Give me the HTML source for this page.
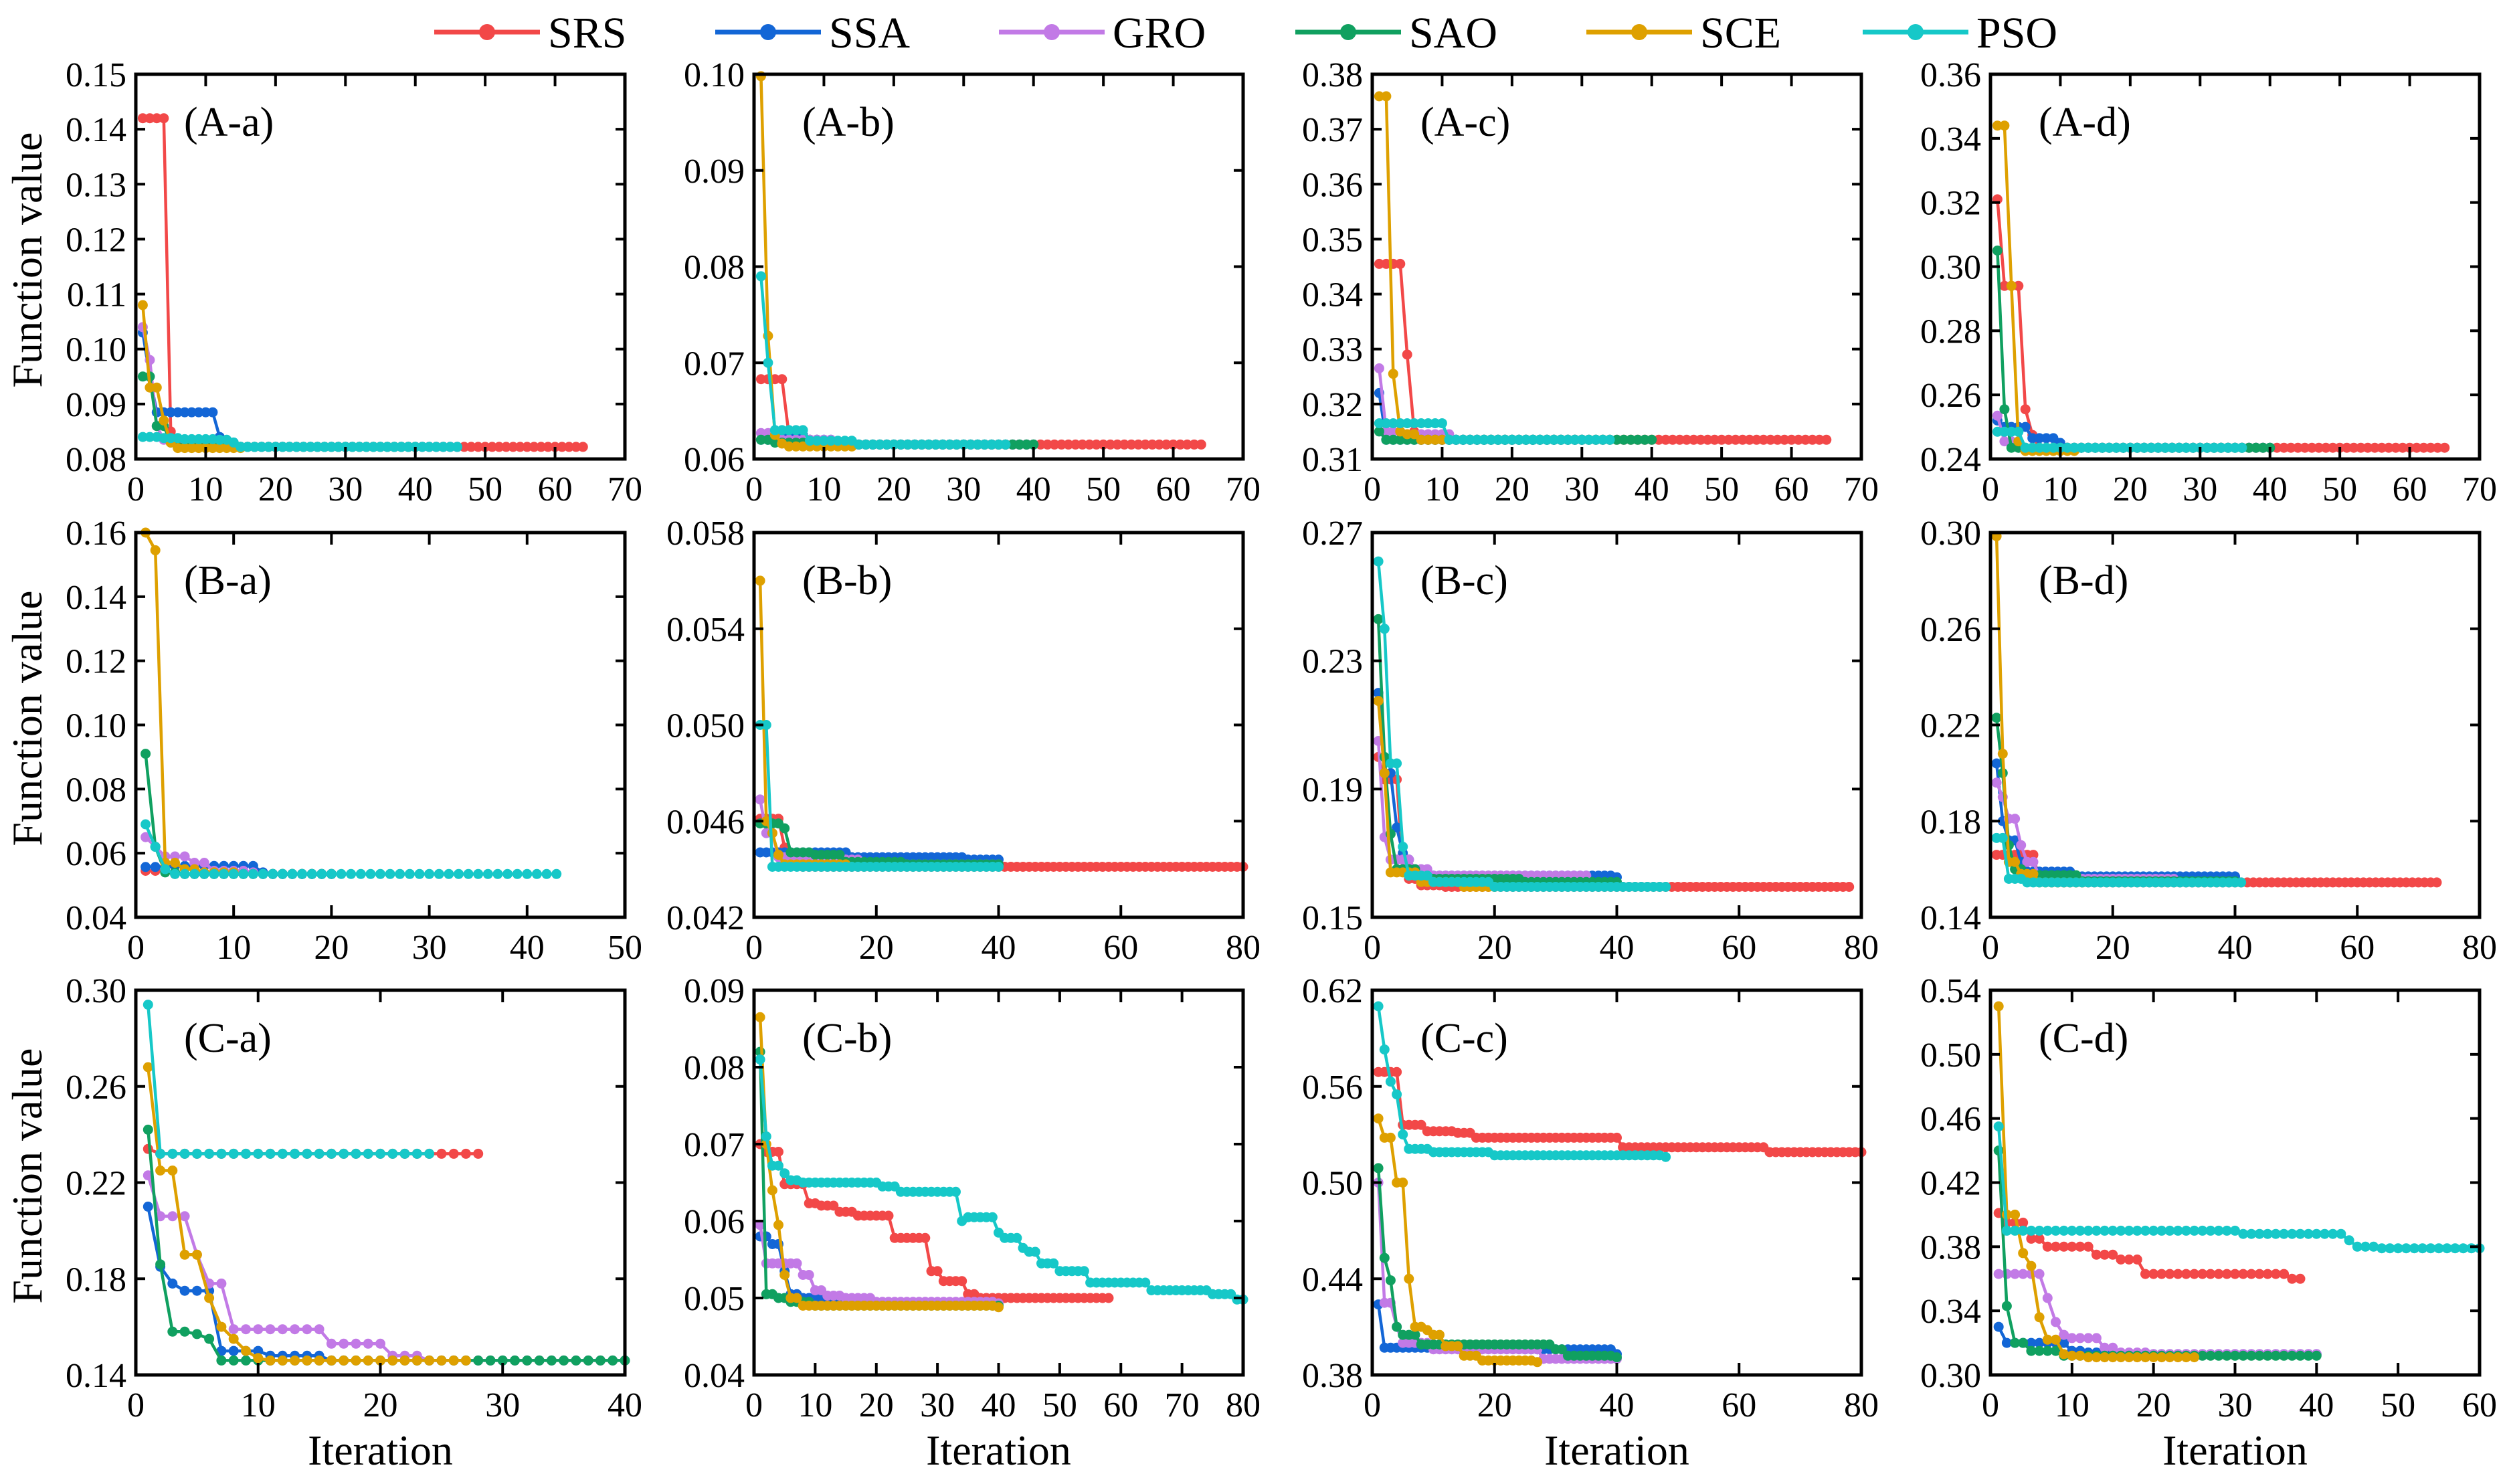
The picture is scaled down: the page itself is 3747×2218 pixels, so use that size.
<!DOCTYPE html>
<html><head><meta charset="utf-8"><style>
html,body{margin:0;padding:0;background:#fff;}
svg, svg text{font-family:"Liberation Serif","DejaVu Serif",serif !important;}
</style></head><body>
<svg id="chart" width="3747" height="2213" viewBox="0 0 3747 2213" xmlns="http://www.w3.org/2000/svg" font-family="Liberation Serif, serif">
<rect width="3747" height="2213" fill="#fff"/>
</svg>
<script>
// ---- data (breakpoints: [iteration, value]; last pair = final iteration) ----
const seriesNames = ["SRS","SSA","GRO","SAO","SCE","PSO"];
const seriesColors = ["#f24848","#1366d6","#c27ae6","#10a060","#dea000","#16c8c8"];
const panelLabels = ["(A-a)","(A-b)","(A-c)","(A-d)","(B-a)","(B-b)","(B-c)","(B-d)","(C-a)","(C-b)","(C-c)","(C-d)"];
const xMaxes = [70,70,70,70,50,80,80,80,40,80,80,60];
const xSteps = [10,10,10,10,10,20,20,20,10,10,20,10];
const yMins = [0.08,0.06,0.31,0.24,0.04,0.042,0.15,0.14,0.14,0.04,0.38,0.30];
const yMaxes = [0.15,0.10,0.38,0.36,0.16,0.058,0.27,0.30,0.30,0.09,0.62,0.54];
const ySteps = [0.01,0.01,0.01,0.02,0.02,0.004,0.04,0.04,0.04,0.01,0.06,0.04];
const yDecimals = [2,2,2,2,2,3,2,2,2,2,2,2];

const dataAa = [
 [[1,.142],[5,.085],[6,.083],[8,.0822],[64,.0822]],
 [[1,.103],[2,.095],[3,.0885],[12,.084],[13,.083],[15,.0822],[46,.0822]],
 [[1,.104],[2,.098],[3,.086],[4,.0835],[8,.0825],[15,.0822],[30,.0822]],
 [[1,.095],[2,.095],[3,.086],[5,.083],[6,.0822],[40,.0822]],
 [[1,.108],[2,.093],[3,.093],[4,.087],[5,.083],[6,.082],[15,.082]],
 [[1,.084],[4,.0838],[7,.0836],[12,.0835],[14,.083],[15,.0822],[46,.0822]]];
const dataAb = [
 [[1,.0683],[5,.0625],[7,.062],[10,.0615],[64,.0615]],
 [[1,.062],[3,.0625],[8,.062],[12,.0615],[40,.0615]],
 [[1,.0627],[4,.062],[12,.0615],[35,.0615]],
 [[1,.062],[3,.0617],[10,.0615],[40,.0615]],
 [[1,.0998],[2,.0728],[3,.0625],[4,.0616],[5,.0613],[14,.0613]],
 [[1,.079],[2,.070],[3,.063],[8,.0619],[15,.0615],[36,.0615]]];
const dataAc = [
 [[1,.3455],[5,.329],[6,.315],[7,.3135],[65,.3135]],
 [[1,.322],[2,.3135],[30,.3135]],
 [[1,.3265],[2,.315],[5,.3145],[12,.3135],[15,.3135]],
 [[1,.315],[2,.3135],[40,.3135]],
 [[1,.376],[2,.376],[3,.3255],[4,.315],[5,.3145],[7,.3135],[10,.3135]],
 [[1,.3165],[11,.3135],[34,.3135]]];
const dataAd = [
 [[1,.321],[2,.294],[5,.2555],[6,.2475],[7,.2435],[65,.2435]],
 [[1,.252],[2,.250],[6,.2465],[10,.245],[11,.2435],[40,.2435]],
 [[1,.2535],[2,.2455],[4,.2435],[30,.2435]],
 [[1,.305],[2,.2555],[3,.2435],[40,.2435]],
 [[1,.344],[2,.344],[3,.294],[4,.2455],[5,.2425],[12,.2425]],
 [[1,.2485],[5,.2435],[36,.2435]]];
const dataBa = [
 [[1,.0545],[4,.0535],[20,.0535]],
 [[1,.0557],[4,.056],[13,.054],[14,.0535],[20,.0535]],
 [[1,.065],[2,.062],[3,.059],[6,.057],[8,.0545],[12,.054],[13,.0535],[20,.0535]],
 [[1,.091],[2,.062],[3,.054],[5,.0535],[20,.0535]],
 [[1,.160],[2,.1545],[3,.057],[5,.055],[7,.054],[10,.054]],
 [[1,.069],[2,.062],[3,.055],[4,.0535],[43,.0535]]];
const dataBb = [
 [[1,.0461],[5,.0449],[6,.0443],[8,.0441],[80,.0441]],
 [[1,.0447],[16,.0445],[35,.0444],[40,.0444]],
 [[1,.0469],[2,.0455],[4,.0445],[8,.0444],[18,.0442],[40,.0442]],
 [[1,.0459],[5,.0457],[6,.0447],[10,.0446],[15,.0443],[25,.0442],[40,.0442]],
 [[1,.056],[2,.046],[3,.0455],[4,.0446],[5,.0442],[15,.0442]],
 [[1,.050],[3,.0441],[40,.0441]]];
const dataBc = [
 [[1,.200],[2,.193],[5,.165],[6,.162],[8,.160],[12,.1595],[78,.1595]],
 [[1,.220],[2,.195],[4,.178],[5,.170],[6,.168],[7,.164],[10,.163],[40,.1625]],
 [[1,.205],[2,.175],[3,.168],[7,.165],[10,.163],[35,.163]],
 [[1,.243],[2,.200],[3,.176],[4,.165],[8,.162],[25,.161],[40,.161]],
 [[1,.2175],[2,.195],[3,.164],[6,.164],[8,.161],[15,.1595],[20,.1595]],
 [[1,.261],[2,.240],[3,.198],[5,.172],[6,.163],[10,.161],[20,.1595],[48,.1595]]];
const dataBd = [
 [[1,.166],[8,.155],[10,.1545],[73,.1545]],
 [[1,.204],[2,.180],[3,.172],[5,.163],[6,.159],[14,.157],[40,.157]],
 [[1,.196],[2,.190],[3,.181],[5,.170],[6,.163],[8,.157],[10,.156],[30,.156]],
 [[1,.223],[2,.200],[3,.170],[4,.160],[6,.1575],[15,.155],[40,.155]],
 [[1,.2985],[2,.208],[3,.163],[5,.158],[8,.1545],[15,.1545]],
 [[1,.173],[3,.156],[6,.1545],[41,.1545]]];
const dataCa = [
 [[1,.234],[2,.232],[28,.232]],
 [[1,.210],[2,.185],[3,.178],[4,.175],[7,.150],[11,.148],[16,.146],[17,.146]],
 [[1,.223],[2,.206],[5,.190],[6,.178],[8,.159],[16,.153],[21,.148],[24,.146],[40,.146]],
 [[1,.242],[2,.186],[3,.158],[5,.157],[6,.155],[7,.146],[40,.146]],
 [[1,.268],[2,.225],[4,.190],[6,.172],[7,.160],[8,.155],[9,.150],[10,.147],[11,.146],[27,.146]],
 [[1,.294],[2,.232],[24,.232]]];
const dataCb = [
 [[1,.070],[2,.069],[5,.0648],[9,.0623],[11,.062],[14,.0612],[17,.0607],[23,.0578],[29,.0535],[31,.0522],[35,.0505],[37,.0500],[58,.0500]],
 [[1,.058],[3,.057],[5,.0535],[6,.0505],[8,.0500],[12,.0495],[15,.0495]],
 [[1,.0595],[2,.0545],[8,.053],[10,.051],[12,.0503],[15,.050],[20,.0495],[40,.0493]],
 [[1,.082],[2,.0505],[4,.050],[6,.0495],[10,.049],[40,.049]],
 [[1,.0865],[2,.070],[3,.064],[4,.0595],[5,.053],[6,.050],[8,.049],[40,.0488]],
 [[1,.081],[2,.071],[3,.0672],[5,.0662],[6,.0653],[8,.065],[21,.0645],[24,.0638],[34,.060],[35,.0605],[40,.0585],[41,.0578],[44,.0565],[45,.056],[47,.0545],[50,.0535],[55,.052],[65,.051],[75,.0505],[79,.0498],[80,.0498]]];
const dataCc = [
 [[1,.569],[5,.536],[9,.532],[14,.531],[17,.528],[41,.522],[65,.519],[80,.519]],
 [[1,.424],[2,.397],[25,.396],[40,.393]],
 [[1,.500],[2,.425],[4,.410],[5,.400],[10,.396],[28,.390],[40,.390]],
 [[1,.509],[2,.453],[3,.439],[4,.410],[5,.405],[8,.399],[30,.396],[32,.392],[40,.391]],
 [[1,.540],[2,.528],[4,.500],[6,.440],[7,.410],[9,.408],[10,.405],[12,.398],[15,.392],[18,.389],[27,.388]],
 [[1,.610],[2,.583],[3,.563],[4,.555],[5,.530],[6,.521],[10,.519],[20,.517],[48,.516]]];
const dataCd = [
 [[1,.401],[2,.395],[5,.385],[7,.380],[13,.375],[16,.372],[19,.363],[37,.360],[38,.360]],
 [[1,.330],[2,.320],[10,.315],[12,.314],[15,.313],[40,.313]],
 [[1,.363],[7,.348],[8,.333],[9,.325],[10,.323],[14,.317],[16,.314],[20,.313],[40,.313]],
 [[1,.440],[2,.343],[3,.320],[5,.315],[9,.312],[40,.312]],
 [[1,.530],[2,.400],[4,.376],[5,.368],[6,.336],[7,.322],[9,.313],[10,.312],[12,.311],[25,.311]],
 [[1,.455],[2,.390],[31,.388],[44,.384],[45,.380],[48,.379],[60,.379]]];
const panelData = [dataAa,dataAb,dataAc,dataAd,dataBa,dataBb,dataBc,dataBd,dataCa,dataCb,dataCc,dataCd];

// ---- layout ----
const NS = "http://www.w3.org/2000/svg";
const FONT = "Liberation Serif, DejaVu Serif, serif";
const svg = document.getElementById("chart");
const colLeft = [203,1127,2051,2975], rowTop = [111,796,1480];
const PW = 731, PH = 575;
function mk(tag, attrs, parent){ const e=document.createElementNS(NS,tag); for(const k in attrs) e.setAttribute(k,attrs[k]); if(tag==="text") e.setAttribute("font-family",FONT); (parent||svg).appendChild(e); return e; }

function expand(bp){
  const pts=[]; const last=bp[bp.length-1][0]; let j=0;
  for(let i=bp[0][0]; i<=last; i++){ while(j+1<bp.length && bp[j+1][0]<=i) j++; pts.push([i,bp[j][1]]); }
  return pts;
}

panelData.forEach((pd, p) => {
  const r=Math.floor(p/4), c=p%4, L=colLeft[c], T=rowTop[r];
  const xs = v => L + v/xMaxes[p]*PW;
  const ys = v => T + PH - (v-yMins[p])/(yMaxes[p]-yMins[p])*PH;
  const g = mk("g",{});
  
  
  pd.forEach((bp, s) => {
    const pts = expand(bp);
    const sg = mk("g",{},g);
    
    
    const line = mk("polyline",{points:pts.map(q=>xs(q[0]).toFixed(1)+","+ys(q[1]).toFixed(1)).join(" "),fill:"none",stroke:seriesColors[s],"stroke-width":4.5,"stroke-linejoin":"round"},sg);
    
    
    pts.forEach(q=>{
      const m = mk("circle",{cx:xs(q[0]).toFixed(1),cy:ys(q[1]).toFixed(1),r:7.5,fill:seriesColors[s]},sg);
      
      
    });
  });
  const fr = mk("rect",{x:L,y:T,width:PW,height:PH,fill:"none",stroke:"#000","stroke-width":5},g);
  
  
  for(let v=0; v<=xMaxes[p]+1e-9; v+=xSteps[p]){
    const x=xs(v);
    mk("line",{x1:x,y1:T+PH,x2:x,y2:T+PH-18,stroke:"#000","stroke-width":4},g);
    mk("line",{x1:x,y1:T,x2:x,y2:T+18,stroke:"#000","stroke-width":4},g);
    const t=mk("text",{x:x,y:T+PH+62,"font-size":52,"text-anchor":"middle"},g);
    t.textContent=String(v);
    
    
  }
  const n=Math.round((yMaxes[p]-yMins[p])/ySteps[p]);
  for(let k=0;k<=n;k++){
    const v=yMins[p]+k*ySteps[p], y=ys(v);
    mk("line",{x1:L,y1:y,x2:L+14,y2:y,stroke:"#000","stroke-width":4},g);
    mk("line",{x1:L+PW,y1:y,x2:L+PW-14,y2:y,stroke:"#000","stroke-width":4},g);
    const t=mk("text",{x:L-14,y:y+18,"font-size":52,"text-anchor":"end"},g);
    t.textContent=v.toFixed(yDecimals[p]);
    
    
  }
  const lab=mk("text",{x:L+72,y:T+92,"font-size":62},g);
  lab.textContent=panelLabels[p];
  
  
});

rowTop.forEach(T=>{
  const t=mk("text",{x:0,y:0,"font-size":64,"text-anchor":"middle",transform:"translate(62,"+(T+PH/2-10)+") rotate(-90)"});
  t.textContent="Function value";
  
  
});
colLeft.forEach(L=>{
  const t=mk("text",{x:L+PW/2,y:2189,"font-size":64,"text-anchor":"middle"});
  t.textContent="Iteration";
  
  
});

const legendX=[649,1069,1493,1936,2371,2784];
seriesNames.forEach((nm,s)=>{
  const x=legendX[s];
  const g=mk("g",{});
  
  
  mk("line",{x1:x,y1:48,x2:x+158,y2:48,stroke:seriesColors[s],"stroke-width":7},g);
  mk("circle",{cx:x+79,cy:48,r:12,fill:seriesColors[s]},g);
  const t=mk("text",{x:x+170,y:71,"font-size":66},g);
  t.textContent=nm;
  
  
});
</script>
</body></html>
